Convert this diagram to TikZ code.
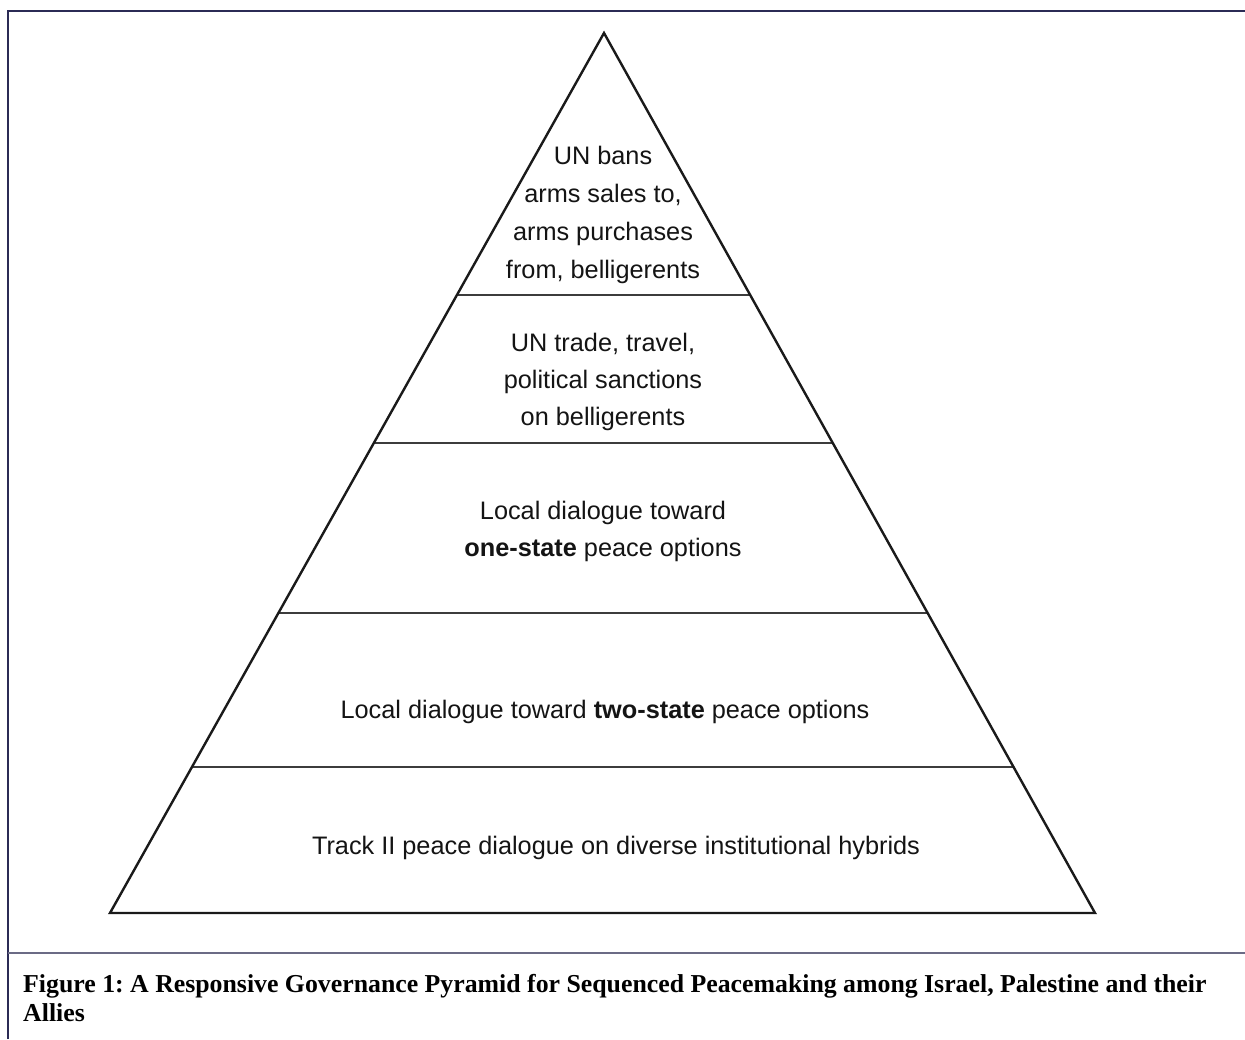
\documentclass[tikz,border=0pt]{standalone}
\usepackage{fontspec}
\setmainfont{Liberation Serif}
\newfontfamily\arialf{Liberation Sans}
\usetikzlibrary{calc}
\definecolor{frame}{HTML}{2B2B55}
\definecolor{sepc}{HTML}{6B6B85}
\definecolor{lnc}{HTML}{1A1A1A}
\frenchspacing
\begin{document}
\begin{tikzpicture}[x=1pt,y=-1pt,
  tier/.style={align=center,font=\arialf\fontsize{25.3}{37}\selectfont,text=black!92,inner sep=0pt},
  side/.style={draw=lnc,line width=2.4pt,line join=miter},
  divider/.style={draw=lnc!85,line width=2.2pt},
  caption/.style={font=\bfseries\fontsize{25.8}{29}\selectfont,anchor=base west,inner sep=0pt}]
\useasboundingbox (0,0) rectangle (1245,1039);
\fill[white] (0,0) rectangle (1245,1039);
% frame
\draw[frame,line width=2pt] (7.5,1039) -- (7.5,10.5) -- (1245,10.5);
\draw[sepc,line width=2pt] (7.5,953) -- (1245,953);
% pyramid corners
\coordinate (apex) at (604,33);
\coordinate (bl) at (110,913);
\coordinate (br) at (1095,913);
% dividers
\foreach \t/\n in {0.2977/a,0.4659/b,0.6591/c,0.8341/d}{
  \coordinate (l\n) at ($(apex)!\t!(bl)$);
  \coordinate (r\n) at ($(apex)!\t!(br)$);
  \draw[divider] (l\n) -- (r\n);
}
\draw[side] (apex) -- (bl) -- (br) -- cycle;
% texts
\node[tier,font=\arialf\fontsize{25.3}{38}\selectfont] (t1) at (603,215) {UN bans\\arms sales to,\\arms purchases\\from, belligerents};
\node[tier] (t2) at (603,382) {UN trade, travel,\\political sanctions\\on belligerents};
\node[tier] (t3) at (603,531) {Local dialogue toward\\\textbf{one-state} peace options};
\node[tier] (t4) at (605,712) {Local dialogue toward \textbf{two-state} peace options};
\node[tier] (t5) at (616,848) {Track II peace dialogue on diverse institutional hybrids};
% caption
\node[caption] (cap1) at (23,992) {Figure 1: A Responsive Governance Pyramid for Sequenced Peacemaking among Israel, Palestine and their};
\node[caption] (cap2) at (23,1021) {Allies};
\end{tikzpicture}
\end{document}
